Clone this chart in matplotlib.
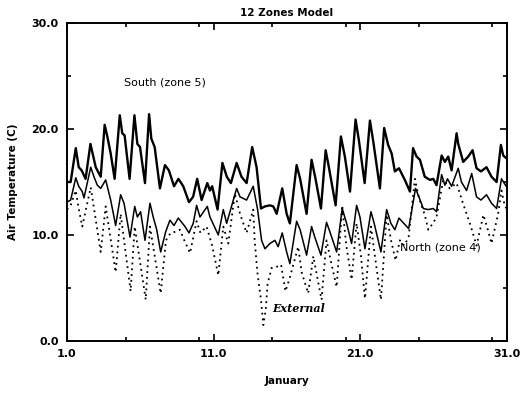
import matplotlib
matplotlib.use("Agg")
import matplotlib.pyplot as plt
from matplotlib.ticker import MultipleLocator

# values (day of January, air temperature in C)
south_day = [1.0, 1.25, 1.6, 1.8, 2.0, 2.27, 2.6, 2.96, 3.3, 3.57, 3.75, 3.98, 4.25, 4.6, 4.77, 4.93,
             5.27, 5.6, 5.8, 5.98, 6.32, 6.6, 6.75, 6.98, 7.34, 7.68, 7.95, 8.3, 8.6, 8.93, 9.32, 9.6,
             9.88, 10.18, 10.57, 10.75, 10.9, 11.27, 11.6, 11.9, 12.18, 12.57, 12.9, 13.25, 13.63, 13.93,
             14.23, 14.5, 14.84, 15.07, 15.3, 15.68, 15.98, 16.2, 16.66, 16.9, 17.34, 17.68, 17.95, 18.32,
             18.64, 18.86, 19.32, 19.68, 19.95, 20.3, 20.68, 20.9, 21.3, 21.66, 21.89, 22.34, 22.63, 22.9,
             23.14, 23.36, 23.64, 24.04, 24.39, 24.6, 24.84, 25.07, 25.4, 25.75, 25.98, 26.2, 26.55, 26.77,
             27.0, 27.23, 27.57, 27.68, 28.02, 28.36, 28.66, 28.93, 29.23, 29.61, 29.95, 30.3, 30.59, 30.75,
             31.0]
south_temp = [15.0, 15.0, 18.2, 16.4, 16.1, 15.3, 18.6, 16.4, 15.5, 20.4, 19.3, 17.7, 15.3, 21.3, 19.6, 19.4,
              15.3, 21.3, 18.6, 18.3, 14.9, 21.4, 19.1, 18.3, 14.4, 16.6, 16.1, 14.6, 15.3, 14.6, 13.1, 13.6,
              15.3, 13.3, 14.9, 14.2, 14.6, 12.4, 16.8, 15.5, 14.9, 16.8, 15.5, 14.9, 18.3, 16.4,
              12.5, 12.7, 12.8, 12.7, 12.0, 14.4, 12.0, 11.1, 16.6, 15.3, 12.0, 17.1, 15.3, 12.5,
              18.0, 16.4, 12.8, 19.3, 17.4, 14.1, 20.9, 19.0, 14.9, 20.8, 18.8, 14.4, 20.1, 18.5,
              17.7, 16.0, 16.3, 15.2, 14.1, 18.2, 17.4, 17.1, 15.5, 15.2, 15.3, 14.7, 17.5, 16.9,
              17.4, 16.1, 19.6, 18.6, 16.9, 17.4, 18.0, 16.3, 16.0, 16.4, 15.5, 15.0, 18.5, 17.5,
              17.2]

north_day = [1.0, 1.25, 1.6, 1.8, 2.04, 2.16, 2.62, 2.84, 3.07, 3.3, 3.64, 3.98, 4.32, 4.66, 4.89, 5.3,
             5.62, 5.8, 6.02, 6.32, 6.66, 6.88, 7.12, 7.39, 7.73, 8.02, 8.3, 8.59, 9.05, 9.32, 9.61, 9.84,
             10.07, 10.57, 10.75, 11.32, 11.66, 11.89, 12.57, 12.8, 13.25, 13.7, 14.0, 14.27, 14.5, 14.84,
             15.18, 15.4, 15.68, 15.98, 16.2, 16.66, 16.9, 17.34, 17.68, 17.9, 18.32, 18.7, 18.93, 19.39,
             19.77, 20.07, 20.41, 20.75, 20.98, 21.32, 21.73, 21.95, 22.41, 22.8, 23.09, 23.36, 23.64, 24.3,
             24.77, 25.0, 25.3, 25.64, 25.98, 26.2, 26.55, 26.77, 26.95, 27.23, 27.68, 27.9, 28.25, 28.6,
             28.93, 29.23, 29.61, 29.95, 30.3, 30.63, 31.0]
north_temp = [13.1, 13.3, 15.4, 14.6, 14.1, 13.5, 16.4, 15.5, 14.7, 14.4, 15.2, 13.3, 10.9, 13.8, 13.0, 9.8,
              12.7, 11.7, 12.2, 9.5, 13.0, 11.7, 10.5, 8.4, 10.3, 11.4, 10.9, 11.6, 10.8, 10.2, 11.1, 12.8,
              11.7, 12.7, 11.7, 10.0, 12.4, 11.1, 14.4, 13.6, 13.3, 14.6, 12.4, 9.5, 8.7, 9.2,
              9.5, 8.9, 10.2, 8.4, 7.3, 11.3, 10.5, 8.1, 10.8, 9.8, 8.1, 11.2, 10.3, 8.4,
              12.5, 11.1, 9.2, 12.8, 11.7, 8.7, 12.2, 11.1, 8.4, 12.4, 11.1, 10.5, 11.6, 10.6,
              14.4, 13.6, 12.5, 12.4, 12.5, 12.2, 15.7, 14.7, 15.3, 14.6, 16.3, 15.0, 14.2, 15.8,
              13.6, 13.3, 13.8, 13.0, 12.5, 15.3, 14.5]

ext_day = [1.0, 1.25, 1.6, 1.8, 2.04, 2.62, 2.9, 3.3, 3.64, 4.32, 4.66, 5.34, 5.62, 6.37, 6.66, 7.39,
           7.75, 8.07, 8.36, 8.7, 9.0, 9.39, 9.84, 10.1, 10.52, 10.9, 11.32, 11.66, 12.0, 12.45, 12.8, 13.25,
           13.7, 13.8, 13.99, 14.23, 14.39, 14.55, 14.68, 14.96, 15.3, 15.6, 15.9, 16.2, 16.77, 17.0,
           17.45, 17.8, 18.0, 18.36, 18.7, 19.0, 19.39, 19.77, 20.05, 20.41, 20.75, 21.05, 21.32, 21.73,
           22.0, 22.41, 22.8, 23.1, 23.41, 23.7, 24.0, 24.3, 24.73, 25.0, 25.4, 25.64, 26.0, 26.2,
           26.66, 27.1, 27.57, 28.0, 28.5, 28.93, 29.4, 29.7, 29.95, 30.4, 30.63, 30.86, 31.0]
ext_temp = [12.4, 12.8, 14.2, 12.5, 10.8, 14.5, 12.0, 8.4, 12.7, 6.5, 12.0, 4.7, 10.8, 3.9, 10.8, 4.5,
            9.5, 10.2, 10.3, 10.5, 9.5, 8.3, 11.3, 10.2, 10.8, 9.0, 6.2, 10.8, 9.2, 13.9, 12.0, 10.2,
            12.4, 9.5, 6.4, 3.9, 1.5, 2.9, 5.4, 6.9, 7.0, 7.2, 4.7, 6.0, 8.9, 6.5,
            4.5, 8.0, 6.5, 3.9, 9.5, 7.5, 5.1, 12.8, 9.0, 5.8, 11.1, 8.0, 4.0, 10.8,
            8.0, 3.9, 11.9, 9.5, 7.6, 9.5, 9.0, 9.8, 15.3, 13.5, 11.9, 10.5, 11.2, 11.7,
            15.2, 14.4, 14.9, 13.0, 11.0, 9.0, 11.9, 10.5, 9.2, 12.0, 14.2, 12.7, 12.5]

xticks = [1, 11, 21, 31]
xtick_labels = ["1.0", "11.0", "21.0", "31.0"]
yticks = [0, 10, 20, 30]
ytick_labels = ["0.0", "10.0", "20.0", "30.0"]

fig = plt.figure(figsize=(5.2, 3.94), dpi=100)
ax = fig.add_axes([0.1288, 0.1345, 0.846, 0.807])

ax.plot(ext_day, ext_temp, color="black", lw=1.3, linestyle=(0, (1, 2.2)))
ax.plot(north_day, north_temp, color="black", lw=1.1, solid_joinstyle="round")
ax.plot(south_day, south_temp, color="black", lw=1.7, solid_joinstyle="round")

ax.set_xlim(1, 31)
ax.set_ylim(0, 30)
ax.set_xticks(xticks)
ax.set_xticklabels(xtick_labels)
ax.set_yticks(yticks)
ax.set_yticklabels(ytick_labels)
ax.xaxis.set_minor_locator(MultipleLocator(5))
ax.yaxis.set_minor_locator(MultipleLocator(5))
ax.tick_params(which="both", direction="in", top=True, right=True, width=1.2)
ax.tick_params(which="major", length=5, labelsize=8, pad=6)
ax.tick_params(which="minor", length=3)
for lab in ax.get_xticklabels() + ax.get_yticklabels():
    lab.set_fontweight("bold")
for s in ax.spines.values():
    s.set_linewidth(1.4)

ax.set_title("12 Zones Model", fontsize=7.5, fontweight="bold", pad=5)
ax.set_xlabel("January", fontsize=7.5, fontweight="bold", labelpad=12)
ax.set_ylabel("Air Temperature (C)", fontsize=7.5, fontweight="bold", labelpad=10)

ax.text(4.9, 24.4, "South (zone 5)", fontsize=8, va="center", ha="left")
ax.text(23.7, 8.8, "North (zone 4)", fontsize=8, va="center", ha="left")
ax.text(15.0, 3.1, "External", fontsize=8, va="center", ha="left",
        family="DejaVu Serif", style="italic", fontweight="bold")

fig.savefig("out.png", dpi=100)
